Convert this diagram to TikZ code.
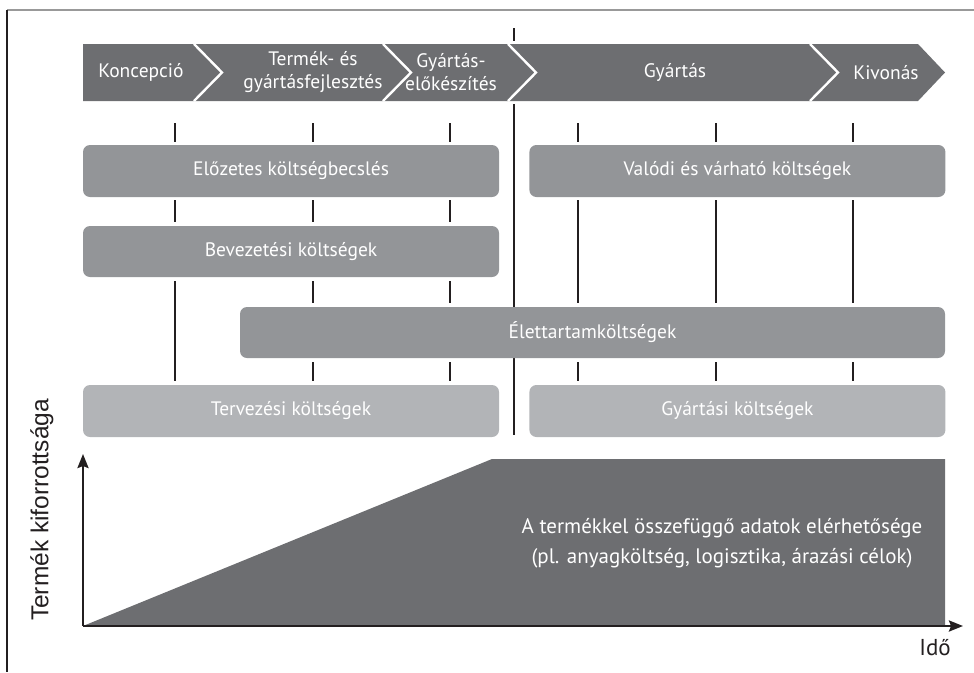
\documentclass[tikz,border=0pt]{standalone}
\usepackage{fontspec}
\setmainfont{PT Sans}
\newfontfamily\axisfont{Liberation Sans}
\usepackage{tikz}
\usetikzlibrary{arrows.meta,positioning}

\definecolor{phasegray}{HTML}{6D6E71}
\definecolor{costgray}{HTML}{939598}
\definecolor{lightgray}{HTML}{B2B4B7}
\definecolor{inkblack}{HTML}{231F20}

\tikzset{
  phase/.style={text=white, font=\fontsize{19.5}{23}\selectfont, align=center, inner sep=0pt},
  cost/.style={rounded corners=7pt, fill=costgray, text=white, minimum height=52pt,
    inner sep=0pt, font=\fontsize{19.5}{21}\selectfont},
  costlight/.style={cost, fill=lightgray},
  tickline/.style={draw=inkblack, line width=2.6pt},
  sepline/.style={draw=white, line width=2.4pt},
  axisline/.style={draw=inkblack, line width=2.4pt, -{Stealth[length=14pt,width=11pt,inset=2pt]}}
}

\begin{document}
\begin{tikzpicture}[x=1pt,y=-1pt]
  \useasboundingbox (0,0) rectangle (974,672);
  % frame
  \draw[gray!80, line width=2pt] (7,10) -- (974,10);
  \draw[inkblack, line width=2pt] (7,10) -- (7,672);

  % phase bar
  \fill[phasegray] (83,44) -- (918,44) -- (945,72.5) -- (918,101) -- (83,101) -- cycle;
  \foreach \x in {194,383,508,810}
    \draw[sepline] (\x,44) -- ({\x+28},72.5) -- (\x,101);
  \node[phase] (konc) at (141,72.5) {Koncepció};
  \node[phase] (fejl) at (313,72.5) {Termék- és\\gyártásfejlesztés};
  \node[phase] (elok) at (451,72.5) {Gyártás-\\előkészítés};
  \node[phase] (gyart) at (675,72.5) {Gyártás};
  \node[phase] (kivon) at (886,72.5) {Kivonás};

  % start of production
  \draw[tickline, line width=2.8pt] (514,28) -- (514,41);
  \draw[tickline, line width=2.8pt] (514,104) -- (514,435);

  % cost boxes
  \node[cost, minimum width=416pt] (becsles) at (291,171) {Előzetes költségbecslés};
  \node[cost, minimum width=416pt, right=30pt of becsles] (valodi) {Valódi és várható költségek};
  \node[cost, minimum width=416pt, minimum height=51pt] (bevez) at (291,251.5) {Bevezetési költségek};
  \node[cost, minimum width=705pt, minimum height=51pt] (elett) at (592.5,332.5) {Élettartamköltségek};
  \node[costlight, minimum width=416pt] (tervez) at (291,411) {Tervezési költségek};
  \node[costlight, minimum width=416pt, right=30pt of tervez] (gyartk) {Gyártási költségek};

  % ticks
  \foreach \x in {175,313,450,578,716,853}
    \draw[tickline] (\x,123) -- (\x,142);
  \foreach \x in {175,313,450}
    \draw[tickline] (\x,200) -- (\x,222);
  \foreach \x in {578,716,853}
    \draw[tickline] (\x,200) -- (\x,303);
  \foreach \x in {313,450}
    \draw[tickline] (\x,281) -- (\x,303);
  \draw[tickline] (175,281) -- (175,381);
  \foreach \x in {313,450,578,716,853}
    \draw[tickline] (\x,362) -- (\x,381);

  % maturity chart
  \fill[phasegray] (83,626) -- (492,459) -- (945,459) -- (945,626) -- cycle;
  \coordinate (origo) at (83,626);
  \coordinate (ytop) at (83,454);
  \coordinate (xend) at (963,626);
  \draw[axisline] (origo) -- (ytop);
  \draw[axisline] (origo) -- (xend);
  \node[text=white, align=center, font=\fontsize{21}{30}\selectfont] (adat) at (722,543)
    {A termékkel összefüggő adatok elérhetősége\\(pl. anyagköltség, logisztika, árazási célok)};
  \node[text=inkblack, font=\fontsize{23}{25}\selectfont] (ido) at (935,648) {Idő};
  \node[text=inkblack, rotate=90, font=\axisfont\fontsize{24.5}{26}\selectfont] (kifor) at (42,510) {Termék kiforrottsága};
\end{tikzpicture}
\end{document}
